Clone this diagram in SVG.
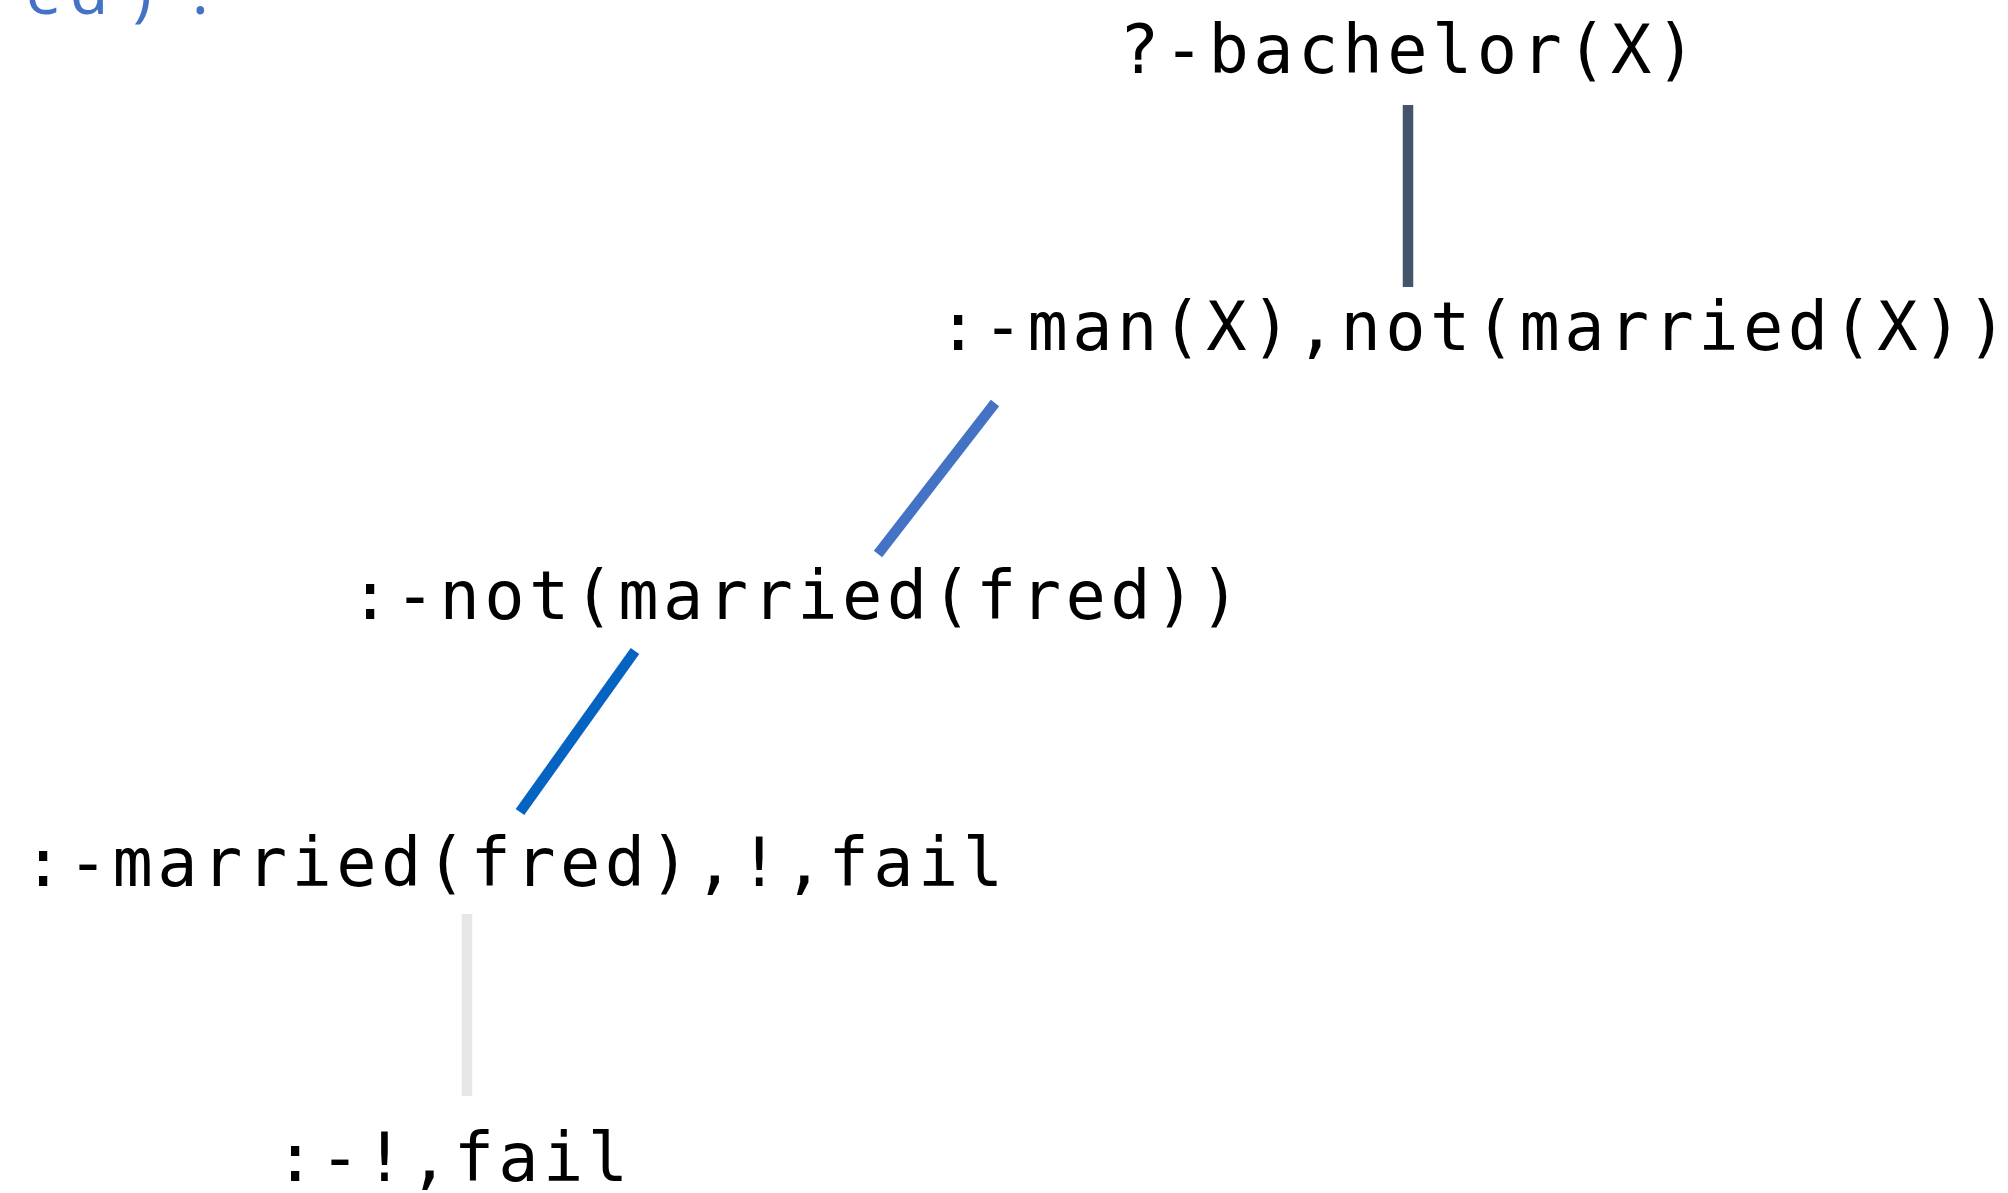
<svg xmlns="http://www.w3.org/2000/svg" width="2008" height="1193" viewBox="0 0 2008 1193">
<style>
.t{font-family:"DejaVu Sans Mono","Liberation Mono",monospace;font-size:67px;fill:#000}
.hdr{font-family:"Noto Sans","Open Sans",sans-serif;font-size:62px;fill:#4472C4}
.c{stroke-width:10.5;fill:none;stroke-linecap:butt}
</style>
<rect width="2008" height="1193" fill="#fff"/>
<text class="hdr" x="26 70 133 192" y="14">ed):</text>
<g id="connectors">
<line class="c" x1="1408" y1="105" x2="1408" y2="287" stroke="#44546A"/>
<line class="c" x1="995" y1="403" x2="878" y2="554" stroke="#4472C4"/>
<line class="c" x1="635" y1="651" x2="520" y2="812" stroke="#0563C1"/>
<line class="c" x1="467" y1="914" x2="467" y2="1096" stroke="#E6E6E6"/>
</g>
<g id="n1"><text class="t" x="1119" y="73" textLength="577" lengthAdjust="spacing">?-bachelor(X)</text></g>
<g id="n2"><text class="t" x="938" y="350" textLength="1069" lengthAdjust="spacing">:-man(X),not(married(X))</text></g>
<g id="n3"><text class="t" x="350" y="619" textLength="890" lengthAdjust="spacing">:-not(married(fred))</text></g>
<g id="n4"><text class="t" x="23" y="886" textLength="980" lengthAdjust="spacing">:-married(fred),!,fail</text></g>
<g id="n5"><text class="t" x="275" y="1181" textLength="353" lengthAdjust="spacing">:-!,fail</text></g>
</svg>
